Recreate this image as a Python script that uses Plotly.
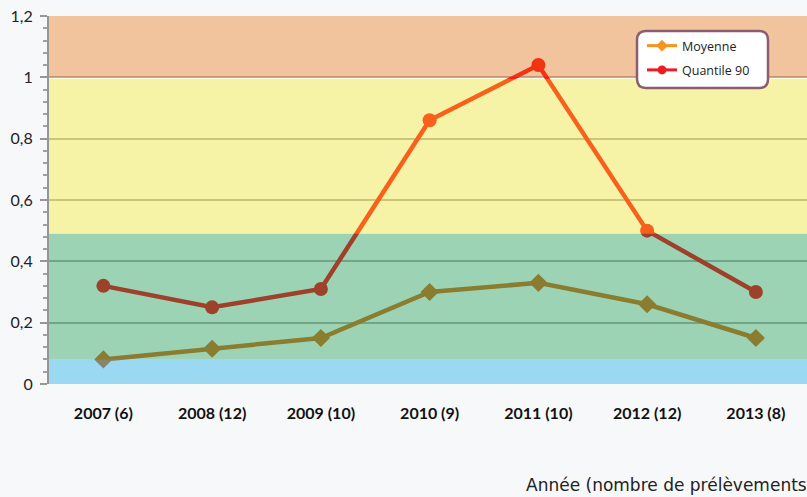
import plotly.graph_objects as go

categories = ["2007 (6)", "2008 (12)", "2009 (10)", "2010 (9)", "2011 (10)", "2012 (12)", "2013 (8)"]
moyenne = [0.08, 0.115, 0.15, 0.30, 0.33, 0.26, 0.15]
quantile90 = [0.32, 0.25, 0.31, 0.86, 1.04, 0.50, 0.30]
tick_vals = [0, 0.2, 0.4, 0.6, 0.8, 1.0, 1.2]

# Bands: (y0, y1, overlay colour)
bands = [
    (0.0, 0.08, "rgb(5,160,222)"),
    (0.08, 0.49, "rgb(10,145,70)"),
    (0.49, 0.995, "rgb(235,225,32)"),
    (1.0, 1.2, "rgb(222,107,10)"),
]

W, H = 807, 497
ML, MR, MT, MB = 49, 0, 16, 113
PW, PH = W - ML - MR, H - MT - MB

def px(x):
    return (x - ML) / PW
def py(y):
    return (MT + PH - y) / PH

fig = go.Figure()
fig.add_trace(go.Scatter(
    x=categories, y=moyenne, name="Moyenne", mode="lines+markers", showlegend=False,
    line=dict(color="rgb(223,112,32)", width=4.5),
    marker=dict(symbol="diamond", size=14, color="rgb(223,112,32)"),
))
fig.add_trace(go.Scatter(
    x=categories, y=quantile90, name="Quantile 90", mode="lines+markers", showlegend=False,
    line=dict(color="rgb(255,13,25)", width=4.5),
    marker=dict(symbol="circle", size=14, color="rgb(255,13,25)"),
))
# legend entries
fig.add_trace(go.Scatter(
    x=[None], y=[None], name="Moyenne", mode="lines+markers", legendgroup="a",
    line=dict(color="rgb(247,148,29)", width=3),
    marker=dict(symbol="diamond", size=9, color="rgb(247,148,29)"),
))
fig.add_trace(go.Scatter(
    x=[None], y=[None], name="Quantile 90", mode="lines+markers", legendgroup="b",
    line=dict(color="rgb(237,28,36)", width=3),
    marker=dict(symbol="circle", size=9, color="rgb(237,28,36)"),
))

shapes = []
for y0, y1, c in bands:
    shapes.append(dict(type="rect", xref="paper", yref="y", x0=0, x1=1, y0=y0, y1=y1,
                       fillcolor=c, opacity=0.4, line=dict(width=0), layer="above"))

x0, x1, y0, y1 = px(637), px(768), py(88), py(31)
rx, ry = 9 / PW, 9 / PH
path = (f"M {x0+rx},{y1} L {x1-rx},{y1} Q {x1},{y1} {x1},{y1-ry} L {x1},{y0+ry} "
        f"Q {x1},{y0} {x1-rx},{y0} L {x0+rx},{y0} Q {x0},{y0} {x0},{y0+ry} "
        f"L {x0},{y1-ry} Q {x0},{y1} {x0+rx},{y1} Z")
shapes.append(dict(type="path", xref="paper", yref="paper", path=path,
                   fillcolor="white", line=dict(color="rgb(140,92,112)", width=2.5), layer="above"))

fig.update_layout(
    width=W, height=H,
    margin=dict(l=ML, r=MR, t=MT, b=MB),
    paper_bgcolor="#F7F8F9",
    plot_bgcolor="white",
    separators=", ",
    shapes=shapes,
    showlegend=True,
    legend=dict(x=px(642), y=py(31), xanchor="left", yanchor="top",
                bgcolor="rgba(0,0,0,0)", borderwidth=0,
                font=dict(family="Open Sans", size=12.5, color="#222"),
                itemwidth=30, traceorder="grouped", tracegroupgap=5),
    annotations=[dict(text="Année (nombre de prélèvements)", xref="paper", yref="paper",
                      x=px(524), y=py(485), xanchor="left", yanchor="middle", showarrow=False,
                      font=dict(family="DejaVu Sans", size=17, color="#222"))],
)
fig.update_xaxes(
    range=[-0.5, 6.47], showgrid=False, zeroline=False, showline=False, ticks="",
    tickfont=dict(family="Lato", size=16, color="#111", weight="bold"),
    ticklabelstandoff=18,
)
fig.update_yaxes(
    range=[0, 1.2], tickvals=tick_vals, showgrid=True, gridcolor="rgb(180,180,180)", gridwidth=1.5,
    zeroline=False, showline=True, linecolor="rgb(150,150,150)", linewidth=2,
    ticks="outside", ticklen=7, tickcolor="rgb(150,150,150)", tickwidth=1.5,
    minor=dict(dtick=0.04, ticks="outside", ticklen=4, tickcolor="rgb(160,160,160)", showgrid=False),
    tickfont=dict(family="Lato", size=16, color="#222"),
    ticklabelstandoff=4,
)
fig.write_html("out.html", config={"displayModeBar": False},
               post_script="document.body.style.margin='0';document.body.style.overflow='hidden';")
